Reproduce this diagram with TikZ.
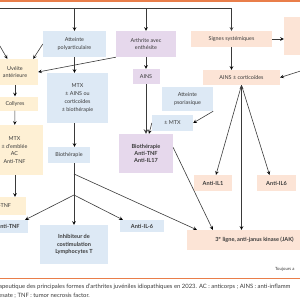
\documentclass[tikz,border=0pt]{standalone}
\usepackage{fontspec}
\setmainfont{Lato}
\usepackage{xcolor}
\usetikzlibrary{arrows}

\definecolor{yel}{HTML}{FEF0D4}
\definecolor{blu}{HTML}{DDE9F5}
\definecolor{pur}{HTML}{E6D8EC}
\definecolor{ora}{HTML}{FCE4D6}
\definecolor{rule}{HTML}{E97E4A}
\definecolor{ink}{HTML}{3A3A3A}

\begin{document}
\begin{tikzpicture}[x=1pt, y=-1pt, >=stealth, shorten >=0pt,
    font=\fontsize{5.4}{7.8}\selectfont, text=ink,
    box/.style={draw=none, align=center, inner sep=0pt, minimum width=#1},
    yel/.style={box=#1, fill=yel},
    blu/.style={box=#1, fill=blu},
    pur/.style={box=#1, fill=pur},
    ora/.style={box=#1, fill=ora},
    strong/.style={font=\fontsize{5.6}{7.4}\selectfont\bfseries},
    link/.style={draw=ink, line width=0.6pt}]
   \useasboundingbox (0,0) rectangle (300,300);
   \clip (0,0) rectangle (300,300);
   \fill[rule] (0,0) rectangle (300,1.5);

   % top row
   \node[blu=63, minimum height=26] (poly) at (74.5,44) {Atteinte\\polyarticulaire};
   \node[pur=60, minimum height=26] (arth) at (146,44) {Arthrite avec\\enthésite};
   \node[ora=81, minimum height=16] (signes) at (231.5,39) {Signes systémiques};
   \node[ora=32, minimum height=38] (rbox) at (300,36) {};
   \coordinate (topL) at (-5,8);
   \coordinate (offL) at (-3,41);
   \coordinate (offR) at (310,68);

   % uveite column
   \node[yel=46, minimum height=26] (uveite) at (15,72) {Uvéite\\antérieure};
   \node[yel=46, minimum height=14] (collyres) at (15,103.5) {Collyres};
   \node[yel=57, minimum height=50] (mtxa) at (14.5,150) {MTX\\± d'emblée\\AC\\Anti-TNF};
   \node[yel=52, minimum height=18] (tnfy) at (0,206) {Anti-TNF};

   % polyarticulaire column
   \node[blu=61, minimum height=50] (mtxb) at (77.5,98) {MTX\\± AINS ou\\corticoïdes\\± biothérapie};
   \node[blu=42, minimum height=16] (bioth) at (69,155) {Biothérapie};
   \coordinate (jb) at (74,174);
   \coordinate (jn) at (74,195);
   \node[blu=40, minimum height=13, strong] (tnfb) at (8,226.5) {Anti-TNF};
   \node[blu=68, minimum height=39, strong] (inhib) at (74,244.5) {Inhibiteur de\\costimulation\\Lymphocytes T};
   \node[blu=44, minimum height=12, strong] (il6b) at (142,226) {Anti-IL-6};

   % enthesite column
   \node[pur=27, minimum height=15] (ainsp) at (146,76.5) {AINS};
   \node[blu=51, minimum height=24] (psor) at (187.5,99) {Atteinte\\psoriasique};
   \node[blu=41, minimum height=16] (mtxp) at (172.5,123) {± MTX};
   \node[pur=54, minimum height=39, strong] (biop) at (146,153.5) {Biothérapie\\Anti-TNF\\Anti-IL17};

   % systemic column
   \node[ora=77, minimum height=15] (ainsc) at (241.5,77.5) {AINS ± corticoïdes};
   \node[ora=38, minimum height=16, strong] (il1) at (213,183) {Anti-IL1};
   \node[ora=39, minimum height=16, strong] (il6o) at (276.5,183) {Anti-IL6};
   \node[ora=135, minimum height=20, strong] (jak) at (254.5,240) {3\textsuperscript{e} ligne, anti-janus kinase (JAK)};

   \draw[link, ->] (topL) -| (signes);
   \draw[link] (jn |- bioth.south) -- (jn);
   \path[link, ->]
    (poly.north |- topL) edge (poly)
    (arth.north |- topL) edge (arth)
    (offL) edge (uveite)
    (poly.west) edge ([xshift=-5pt]uveite.north east)
    (arth.south west) edge (uveite.east)
    (uveite) edge (collyres)
    (collyres) edge (mtxa)
    (mtxa.south -| collyres) edge (collyres |- tnfy.north)
    (poly) edge (poly |- mtxb.north)
    (poly |- mtxb.south) edge (poly |- bioth.north)
    (jn) edge ([xshift=-3pt]tnfb.north east)
    (jn) edge (jn |- inhib.north)
    (jn) edge ([xshift=3pt]il6b.north west)
    (jb) edge ([xshift=10pt]jak.north west)
    (arth) edge (ainsp)
    (psor.south east) edge (mtxp.east)
    (mtxp.west) edge ([xshift=3pt]biop.north)
    ([yshift=6pt]biop.east) edge ([xshift=26pt]jak.north west)
    (signes) edge (signes |- ainsc.north)
    (signes.east) edge (signes.east -| rbox.west)
    (offR) edge (ainsc.east)
    (ainsc.south) edge ([xshift=3pt]il1.north)
    (ainsc.south) edge (ainsc.south |- jak.north)
    (ainsc.south) edge ([xshift=-7pt]il6o.north);
   \draw[link, line width=1pt, ->] (ainsp) -- (biop);

   % footer
   \node[anchor=west, inner sep=0pt, font=\fontsize{4.3}{5}\selectfont] (toujours) at (275,269) {Toujours a};
   \fill[rule] (0,277.5) rectangle (300,278.5);
   \node[anchor=west, inner sep=0pt, font=\fontsize{5.9}{7}\selectfont] (cap1) at (-1,287) {apeutique des principales formes d'arthrites juvéniles idiopathiques en 2023. AC : anticorps ; AINS : anti-inflamm};
   \node[anchor=west, inner sep=0pt, font=\fontsize{5.9}{7}\selectfont] (cap2) at (-1,296) {esate ; TNF : tumor necrosis factor.};
\end{tikzpicture}
\end{document}
